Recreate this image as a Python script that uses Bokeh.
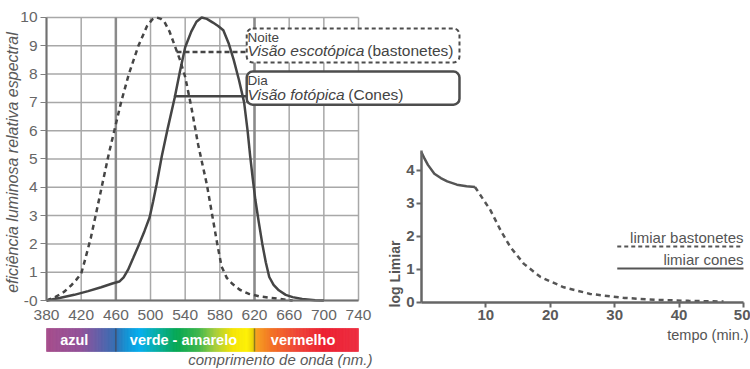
import numpy as np
from bokeh.plotting import figure
from bokeh.models import Range1d, FixedTicker, BoxAnnotation, Label, LinearAxis
from bokeh.embed import file_html
from bokeh.resources import INLINE
from bokeh.core.properties import value

# ---------------- data: relative spectral luminous efficiency ----------------
wl_ticks = [380, 420, 460, 500, 540, 580, 620, 660, 700, 740]
eff_ticks = [0, 1, 2, 3, 4, 5, 6, 7, 8, 9, 10]

photopic_nm = [380, 395, 412, 428, 443, 456, 464, 469, 474, 480, 487, 493, 499, 503, 507, 513,
               520, 528, 534, 540, 547, 553, 559, 565, 572, 578, 584, 590, 596, 602, 608, 612,
               615, 618, 621, 625, 629, 633, 637, 642, 648, 656, 664, 675, 690, 700]
photopic_eff = [0.0, 0.09, 0.2, 0.33, 0.47, 0.6, 0.67, 0.82, 1.08, 1.5, 2.0, 2.45, 2.94, 3.5, 4.1, 5.1,
                6.1, 7.18, 8.1, 8.95, 9.5, 9.85, 10.0, 9.95, 9.82, 9.7, 9.55, 9.1, 8.5, 7.8, 7.0, 6.0,
                5.1, 4.3, 3.55, 2.75, 2.0, 1.35, 0.83, 0.55, 0.36, 0.2, 0.12, 0.05, 0.01, 0.0]

scotopic_nm = [380, 390, 400, 408, 414, 420, 425, 431, 437, 445, 452, 459, 466, 475, 486, 496,
               502, 507, 512, 516, 522, 528, 534, 540, 547, 555, 560, 565, 571, 577, 582, 588,
               594, 603, 613, 625, 637, 650, 664]
scotopic_eff = [0.0, 0.12, 0.3, 0.52, 0.72, 0.95, 1.5, 2.2, 3.05, 4.2, 5.2, 6.1, 7.0, 8.0, 9.0, 9.7,
                9.93, 10.0, 9.95, 9.85, 9.5, 9.0, 8.5, 7.9, 6.85, 5.5, 4.8, 4.1, 3.05, 2.0, 1.2, 0.8,
                0.6, 0.38, 0.24, 0.15, 0.1, 0.05, 0.0]

band_edges_nm = [380, 460, 620, 740]
band_names = ["azul", "verde - amarelo", "vermelho"]
band_label_nm = [412, 538, 676]
spectrum_nm = [380, 420, 445, 460, 472, 488, 510, 530, 555, 575, 595, 612, 619, 622, 640, 670, 700, 740]
spectrum_hex = ["#a54a8a", "#904f98", "#5560aa", "#2f6db3", "#1191d3", "#00aeef", "#00ad9a", "#00a651",
                "#39b54a", "#a6ce39", "#f5e400", "#fff200", "#e8d000", "#f7a01c", "#f37021", "#ef4135",
                "#ec1c2e", "#ee2a3d"]

night_level = 8.78   # connector level of the "Noite" box
day_level = 7.22     # connector level of the "Dia" box

# ---------------- data: dark adaptation ----------------
time_ticks = [10, 20, 30, 40, 50]
log_ticks = [0, 1, 2, 3, 4]
cone_t = [0, 0.5, 1, 2, 3, 4, 5.5, 7, 8.3]
cone_log = [4.55, 4.35, 4.17, 3.9, 3.77, 3.67, 3.57, 3.52, 3.5]
rod_t = [8.3, 8.65, 10.7, 12.3, 13.8, 15.9, 18.5, 22.1, 26.2, 31.4, 36.6, 41.5, 46.9]
rod_log = [3.5, 3.4, 2.8, 2.18, 1.68, 1.17, 0.77, 0.46, 0.26, 0.14, 0.08, 0.05, 0.03]

FONT = "Liberation Sans"
GREY_TXT = "#5a5a5a"
CURVE = "#454545"
GRID = "#a8a8a8"

# One canvas-sized frame; the left chart uses the default ranges (nm / efficiency),
# the right chart uses extra ranges "t" (minutes) and "lg" (log threshold).
p = figure(width=750, height=369, x_range=Range1d(326.9, 1192.3), y_range=Range1d(-2.438, 10.6),
           x_axis_location=None, y_axis_location=None, output_backend="svg", toolbar_location=None,
           min_border=0, outline_line_color=None, background_fill_color="white",
           border_fill_color="white")
p.grid.visible = False
p.extra_x_ranges = {"t": Range1d(-65.37, 51.09)}
p.extra_y_ranges = {"lg": Range1d(-2.03, 9.15)}

# ======================= left chart =======================
# grid lines drawn from the tick arrays
p.segment(x0=wl_ticks, x1=wl_ticks, y0=[eff_ticks[0]] * len(wl_ticks), y1=[eff_ticks[-1]] * len(wl_ticks),
          line_color=GRID, line_width=1.5)
p.segment(x0=[wl_ticks[0]] * len(eff_ticks), x1=[wl_ticks[-1]] * len(eff_ticks), y0=eff_ticks, y1=eff_ticks,
          line_color=GRID, line_width=1.5)
p.segment(x0=band_edges_nm[1:3], x1=band_edges_nm[1:3], y0=[0, 0], y1=[10, 10],
          line_color="#8a8a8a", line_width=2.5)

def style_axis(ax, font_size, color, bold=False):
    ax.axis_line_color = "#707070"
    ax.axis_line_width = 2
    ax.major_tick_line_color = "#808080"
    ax.major_tick_line_width = 1.2
    ax.minor_tick_line_color = None
    ax.major_tick_in = 0
    ax.major_label_text_font = FONT
    ax.major_label_text_font_size = font_size
    ax.major_label_text_color = color
    if bold:
        ax.major_label_text_font_style = "bold"

yax = LinearAxis(ticker=FixedTicker(ticks=eff_ticks), fixed_location=wl_ticks[0],
                 bounds=(eff_ticks[0], eff_ticks[-1]), major_label_overrides={0: "-0"})
style_axis(yax, "15.5px", "#666666")
yax.major_tick_out = 6
yax.major_label_standoff = 3
p.add_layout(yax, "left")

xax = LinearAxis(ticker=FixedTicker(ticks=wl_ticks), fixed_location=eff_ticks[0],
                 bounds=(wl_ticks[0], wl_ticks[-1]))
style_axis(xax, "15.5px", "#666666")
xax.major_tick_out = 0
xax.major_label_standoff = 9
p.add_layout(xax, "below")

p.line(scotopic_nm, scotopic_eff, line_color=CURVE, line_width=2.5, line_dash="5 4")
p.line(photopic_nm, photopic_eff, line_color=CURVE, line_width=2.5)

# legend boxes and connectors
box_left_nm = 611
box_right_nm = 856.5
p.segment(x0=[530], y0=[night_level], x1=[box_left_nm], y1=[night_level],
          line_color=CURVE, line_width=2.5, line_dash="5 3")
p.segment(x0=[527], y0=[day_level], x1=[box_left_nm], y1=[day_level],
          line_color=CURVE, line_width=2.5)
p.add_layout(BoxAnnotation(left=box_left_nm, right=box_right_nm, top=9.61, bottom=8.41,
                           fill_color="white", fill_alpha=1, line_color="#4d4d4d", line_alpha=1,
                           line_width=2, line_dash="4 3", border_radius=6))
p.add_layout(BoxAnnotation(left=box_left_nm, right=box_right_nm, top=8.09, bottom=6.92,
                           fill_color="white", fill_alpha=1, line_color="#4d4d4d", line_alpha=1,
                           line_width=2.5, border_radius=6))

def lab(x, y, text, size, style="normal", align="left", color="#444444", angle=0.0,
        xr="default", yr="default"):
    p.add_layout(Label(x=x, y=y, text=text, text_font=FONT, text_font_size=size,
                       text_font_style=style, text_align=align, text_baseline="middle",
                       text_color=color, angle=angle, x_range_name=xr, y_range_name=yr))

lab(611.9, 9.29, "Noite", "13.5px")
lab(611.9, 8.83, "Visão escotópica", "15.5px", style="italic")
lab(849.6, 8.83, "(bastonetes)", "15.5px", align="right")
lab(611.9, 7.77, "Dia", "13.5px")
lab(611.9, 7.28, "Visão fotópica", "15.5px", style="italic")
lab(791.9, 7.28, "(Cones)", "15.5px", align="right")

lab(340.7, 4.876, "eficiência luminosa relativa espectral", "16px", style="italic",
    align="center", color=GREY_TXT, angle=np.pi / 2)

# ======================= spectrum bar =======================
bar_top, bar_bottom = -0.989, -1.80

def hex2rgb(h):
    return np.array([int(h[i:i + 2], 16) for i in (1, 3, 5)], dtype=float)

stops_rgb = np.array([hex2rgb(h) for h in spectrum_hex])
xs = np.arange(spectrum_nm[0], spectrum_nm[-1], 1.0)
cols = []
for xv in xs + 0.5:
    r = np.interp(xv, spectrum_nm, stops_rgb[:, 0])
    g = np.interp(xv, spectrum_nm, stops_rgb[:, 1])
    b = np.interp(xv, spectrum_nm, stops_rgb[:, 2])
    cols.append("#%02x%02x%02x" % (int(r), int(g), int(b)))
p.quad(left=xs, right=xs + 1, bottom=bar_bottom, top=bar_top, fill_color=cols, line_color=cols,
       line_width=0.6)
p.segment(x0=band_edges_nm[1:3], x1=band_edges_nm[1:3], y0=[bar_bottom] * 2, y1=[bar_top] * 2,
          line_color=["#3d5270", "#8a7a1e"], line_width=1.5)
p.text(x=band_label_nm, y=[(bar_top + bar_bottom) / 2] * 3, text=band_names, text_color="white",
       text_font=value(FONT), text_font_size="14.5px", text_font_style="bold",
       text_align="center", text_baseline="middle")
lab(756.1, -2.10, "comprimento de onda (nm.)", "15px", style="italic", align="right", color=GREY_TXT)

# ======================= right chart =======================
def style_axis2(ax):
    ax.axis_line_color = "#666666"
    ax.axis_line_width = 2.5
    ax.major_tick_line_color = "#666666"
    ax.major_tick_line_width = 2
    ax.minor_tick_line_color = None
    ax.major_tick_in = 0
    ax.major_tick_out = 5
    ax.major_label_text_font = FONT
    ax.major_label_text_font_size = "15px"
    ax.major_label_text_font_style = "bold"
    ax.major_label_text_color = "#5a5a5a"

ryax = LinearAxis(x_range_name="t", y_range_name="lg", ticker=FixedTicker(ticks=log_ticks),
                  fixed_location=0, bounds=(0, 4.6))
style_axis2(ryax)
ryax.major_label_standoff = 2
p.add_layout(ryax, "left")

rxax = LinearAxis(x_range_name="t", y_range_name="lg", ticker=FixedTicker(ticks=time_ticks),
                  fixed_location=0, bounds=(0, 50))
style_axis2(rxax)
rxax.major_label_standoff = 3
p.add_layout(rxax, "below")

p.line(cone_t, cone_log, line_color="#555555", line_width=2.5, x_range_name="t", y_range_name="lg")
p.line(rod_t, rod_log, line_color="#555555", line_width=2.5, line_dash="5 4",
       x_range_name="t", y_range_name="lg")

p.segment(x0=[30.4], x1=[49.5], y0=[1.70], y1=[1.70], line_color="#555555", line_width=2,
          line_dash="4 3", x_range_name="t", y_range_name="lg")
p.segment(x0=[30.4], x1=[50.0], y0=[1.03], y1=[1.03], line_color="#555555", line_width=2,
          x_range_name="t", y_range_name="lg")
lab(50, 1.97, "limiar bastonetes", "15px", align="right", color="#555555", xr="t", yr="lg")
lab(50, 1.30, "limiar cones", "15px", align="right", color="#555555", xr="t", yr="lg")
lab(-4.04, -0.15, "log Limiar", "14px", style="bold", align="left", color="#555555",
    angle=np.pi / 2, xr="t", yr="lg")
lab(50.8, -0.97, "tempo (min.)", "14.5px", align="right", color="#555555", xr="t", yr="lg")

open("out.html", "w").write(file_html(p, INLINE))
